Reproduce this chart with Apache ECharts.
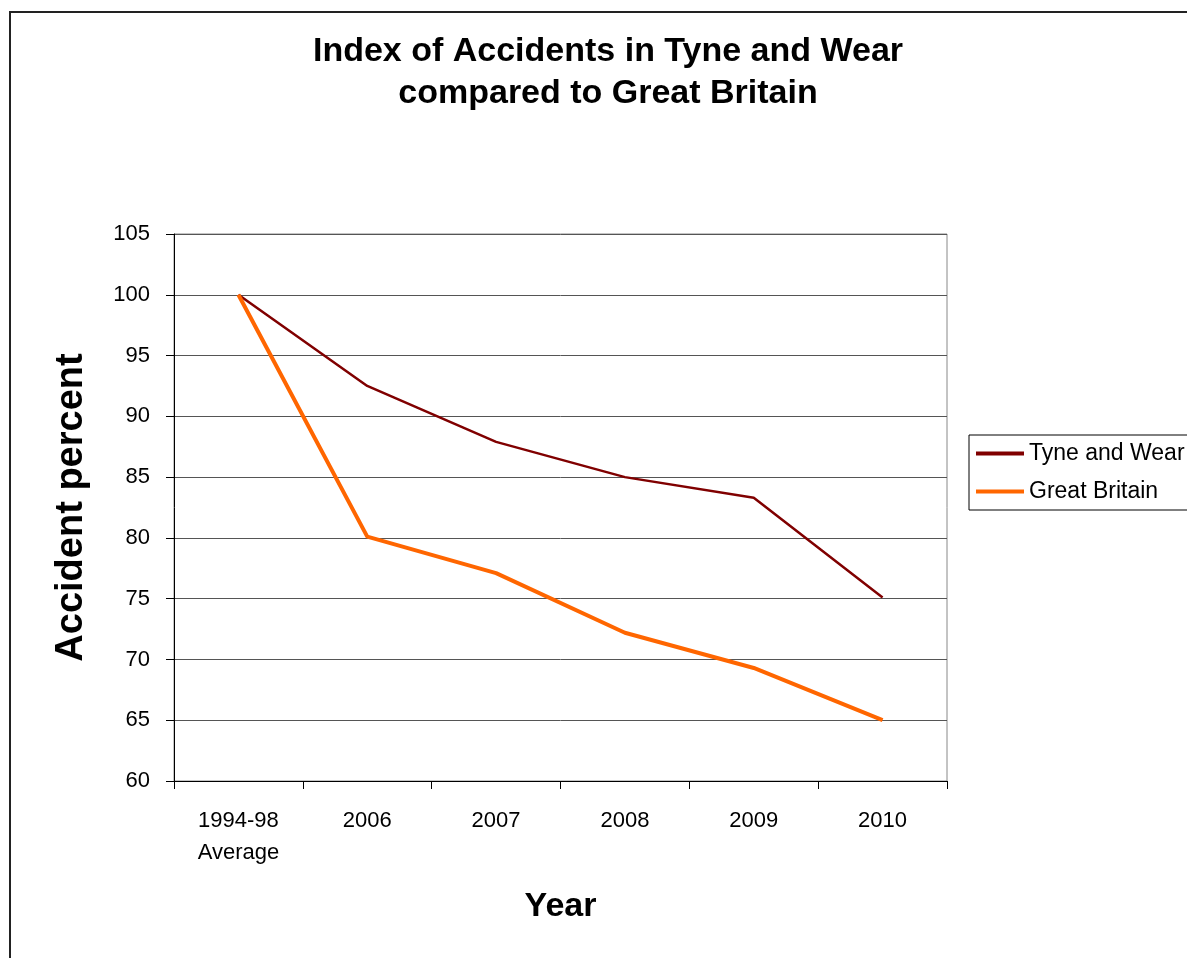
<!DOCTYPE html>
<html>
<head>
<meta charset="utf-8">
<script src="https://cdn.jsdelivr.net/npm/echarts@6/dist/echarts.min.js"></script>
<style>
html,body{margin:0;padding:0;background:#fff;}
#c{width:1187px;height:958px;}
</style>
</head>
<body>
<div id="c"></div>
<script>
var categories = ['1994-98\nAverage', '2006', '2007', '2008', '2009', '2010'];
var tyneWear = [100, 92.5, 87.9, 85.0, 83.3, 75.1];
var greatBritain = [100, 80.1, 77.1, 72.2, 69.3, 65.0];
var yTicks = {min: 60, max: 105, interval: 5};

var FONT = 'Arial, "Liberation Sans", sans-serif';
var chart = echarts.init(document.getElementById('c'), null, {renderer: 'canvas'});
chart.setOption({
  backgroundColor: '#fff',
  animation: false,
  graphic: [{
    type: 'rect', silent: true, z: -1,
    shape: {x: 10, y: 12, width: 1300, height: 1100},
    style: {fill: 'none', stroke: '#222', lineWidth: 2}
  }],
  title: {
    text: 'Index of Accidents in Tyne and Wear\ncompared to Great Britain',
    left: 608, top: 31, textAlign: 'center', padding: 0,
    textStyle: {fontFamily: FONT, fontSize: 34, fontWeight: 'bold', color: '#000', lineHeight: 42}
  },
  legend: {
    left: 969, top: 435, orient: 'vertical',
    padding: [7, 60, 7, 7],
    itemWidth: 48, itemHeight: 4, itemGap: 15,
    borderColor: '#000', borderWidth: 1,
    icon: 'rect',
    textStyle: {fontFamily: FONT, fontSize: 23, color: '#000'},
    data: ['Tyne and Wear', 'Great Britain']
  },
  grid: {left: 174, right: 240, top: 234, bottom: 177, show: true, borderColor: '#888', borderWidth: 1},
  xAxis: {
    type: 'category', data: categories, boundaryGap: true,
    name: 'Year', nameLocation: 'middle', nameGap: 109,
    nameTextStyle: {fontFamily: FONT, fontSize: 34, fontWeight: 'bold', color: '#000'},
    axisLine: {lineStyle: {color: '#000', width: 1}},
    axisTick: {show: true, length: 8, lineStyle: {color: '#000'}},
    axisLabel: {fontFamily: FONT, fontSize: 22, color: '#000', margin: 24, lineHeight: 32, interval: 0}
  },
  yAxis: {
    type: 'value', min: yTicks.min, max: yTicks.max, interval: yTicks.interval,
    name: 'Accident percent', nameLocation: 'middle', nameGap: 83,
    nameTextStyle: {fontFamily: FONT, fontSize: 38, fontWeight: 'bold', color: '#000'},
    axisLine: {show: true, lineStyle: {color: '#000', width: 1}},
    axisTick: {show: true, length: 8, lineStyle: {color: '#000'}},
    axisLabel: {fontFamily: FONT, fontSize: 22, color: '#000', margin: 24},
    splitLine: {show: true, lineStyle: {color: '#555', width: 1}}
  },
  series: [
    {name: 'Tyne and Wear', type: 'line', data: tyneWear, symbol: 'none',
     color: '#800000', lineStyle: {color: '#800000', width: 2.5}},
    {name: 'Great Britain', type: 'line', data: greatBritain, symbol: 'none',
     color: '#FF6600', lineStyle: {color: '#FF6600', width: 4}}
  ]
});
</script>
</body>
</html>
